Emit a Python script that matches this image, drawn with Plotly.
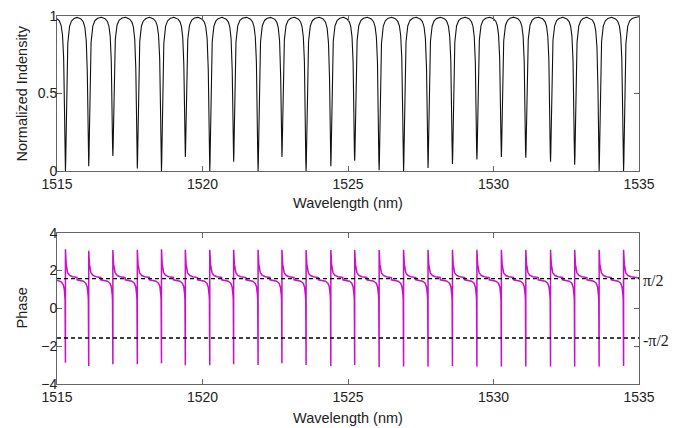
import numpy as np
import plotly.graph_objects as go

# ---- data ----
wl_range = [1515, 1535]
x_ticks = [1515, 1520, 1525, 1530, 1535]
int_ticks = [0, 0.5, 1]
phase_ticks = [-4, -2, 0, 2, 4]

# resonance wavelengths (nm)
res_centers = [1515.29, 1516.09, 1516.92, 1517.76, 1518.59, 1519.41, 1520.25, 1521.07,
               1521.91, 1522.73, 1523.56, 1524.41, 1525.23, 1526.07, 1526.91, 1527.75,
               1528.59, 1529.43, 1530.27, 1531.11, 1531.96, 1532.79, 1533.63, 1534.47]
# lowest sampled intensity at each dip
dip_min = [0.0, 0.03, 0.097, 0.017, 0.0, 0.09, 0.0, 0.06,
           0.0, 0.09, 0.0, 0.03, 0.066, 0.005, 0.0, 0.02,
           0.045, 0.075, 0.09, 0.085, 0.06, 0.04, 0.0, 0.0]
# phase spike extremes at each resonance
phase_top = [3.12, 3.05, 3.08, 3.1, 3.12, 3.1, 3.1, 3.1,
             3.1, 3.1, 3.09, 3.09, 3.09, 3.09, 3.1, 3.1,
             3.1, 3.1, 3.1, 3.1, 3.1, 3.1, 3.1, 3.1]
phase_bottom = [-2.87, -3.05, -2.95, -2.96, -2.9, -3.01, -3.01, -2.96,
                -3.0, -2.9, -3.0, -3.05, -3.0, -3.12, -3.08, -3.08,
                -3.05, -3.08, -3.08, -3.08, -3.08, -3.08, -3.08, -3.05]
dip_hwhm = 0.038      # nm, resonance half width (intensity)
phase_width = 0.025   # nm, phase transition width
phase_gap = 0.012     # nm, nearest sample to resonance
ref_levels = [np.pi / 2, -np.pi / 2]
ref_labels = ["π/2", "-π/2"]

# ---- build curves ----
centers = np.array(res_centers)
base = np.linspace(wl_range[0], wl_range[1], 6001)

xi = np.unique(np.concatenate([base, centers]))
k = np.abs(xi[:, None] - centers[None, :]).argmin(axis=1)
d = xi - centers[k]
depth = 1 - np.array(dip_min)[k]
yi = 1 - depth * dip_hwhm**2 / (d**2 + dip_hwhm**2)

kb = np.abs(base[:, None] - centers[None, :]).argmin(axis=1)
db = base - centers[kb]
keep = np.abs(db) > phase_gap
pts = list(zip(base[keep], np.pi / 2 + np.arctan(phase_width / db[keep]), np.zeros(keep.sum())))
for j, c in enumerate(res_centers):
    pts.append((c - phase_gap, np.pi / 2 + np.arctan(phase_width / -phase_gap), 0))
    pts.append((c, phase_bottom[j], 1))
    pts.append((c, phase_top[j], 2))
    pts.append((c + phase_gap, np.pi / 2 + np.arctan(phase_width / phase_gap), 3))
pts.sort(key=lambda p: (p[0], p[2]))
xp = [p[0] for p in pts]
yp = [p[1] for p in pts]

# ---- figure ----
fig = go.Figure()
fig.add_trace(go.Scatter(x=xi, y=yi, mode="lines", line=dict(color="#111111", width=1.1),
                         xaxis="x", yaxis="y", showlegend=False, hoverinfo="skip"))
fig.add_trace(go.Scatter(x=xp, y=yp, mode="lines", line=dict(color="#C810C8", width=1.5),
                         xaxis="x2", yaxis="y2", showlegend=False, hoverinfo="skip"))
for lv in ref_levels:
    fig.add_trace(go.Scatter(x=wl_range, y=[lv, lv], mode="lines",
                             line=dict(color="black", width=1.4, dash="4px,3px"),
                             xaxis="x2", yaxis="y2", showlegend=False, hoverinfo="skip"))

font = dict(family="Arial, Liberation Sans, sans-serif", size=14, color="#222222")
title_font = dict(family="Arial, Liberation Sans, sans-serif", size=14.5, color="#222222")
axis_common = dict(showline=True, linecolor="#666666", linewidth=1, mirror="ticks",
                   ticks="inside", ticklen=5, tickcolor="#666666", showgrid=False,
                   zeroline=False, tickfont=font, automargin=False,
                   ticklabeloverflow="allow")

# the page body adds an 8 px offset, so the figure is 8 px smaller on each side
fig.update_layout(
    width=675, height=420,
    margin=dict(l=49, r=44, t=8, b=44),
    paper_bgcolor="white", plot_bgcolor="white",
    font=font,
    xaxis=dict(domain=[0, 1], range=wl_range, tickvals=x_ticks, anchor="y", **axis_common),
    yaxis=dict(domain=[0.5788, 1], range=[0, 1], tickvals=int_ticks, ticktext=["0", "0.5", "1"],
               anchor="x", ticklabelstandoff=-4, **axis_common),
    xaxis2=dict(domain=[0, 1], range=wl_range, tickvals=x_ticks, anchor="y2", **axis_common),
    yaxis2=dict(domain=[0, 0.4111], range=[-4, 4], tickvals=phase_ticks, anchor="x2",
                ticklabelstandoff=-4, **axis_common),
)

# axis titles placed as in the reference
for ty in [0.492, -0.0924]:
    fig.add_annotation(x=0.5, xref="paper", y=ty, yref="paper", text="Wavelength (nm)",
                       showarrow=False, xanchor="center", yanchor="middle", font=title_font)
fig.add_annotation(x=0, xref="paper", xshift=-35, y=0.7894, yref="paper",
                   text="Normalized Indensity", textangle=-90, showarrow=False,
                   xanchor="center", yanchor="middle", font=title_font)
fig.add_annotation(x=0, xref="paper", xshift=-35, y=0.2055, yref="paper",
                   text="Phase", textangle=-90, showarrow=False,
                   xanchor="center", yanchor="middle", font=title_font)

for lv, lab in zip(ref_levels, ref_labels):
    fig.add_annotation(x=1, xref="paper", y=lv, yref="y2", text=lab, showarrow=False,
                       xanchor="left", xshift=2, yshift=-2,
                       font=dict(family="Liberation Serif, Times New Roman, serif", size=16, color="#222222"))

fig.write_html("out.html")
